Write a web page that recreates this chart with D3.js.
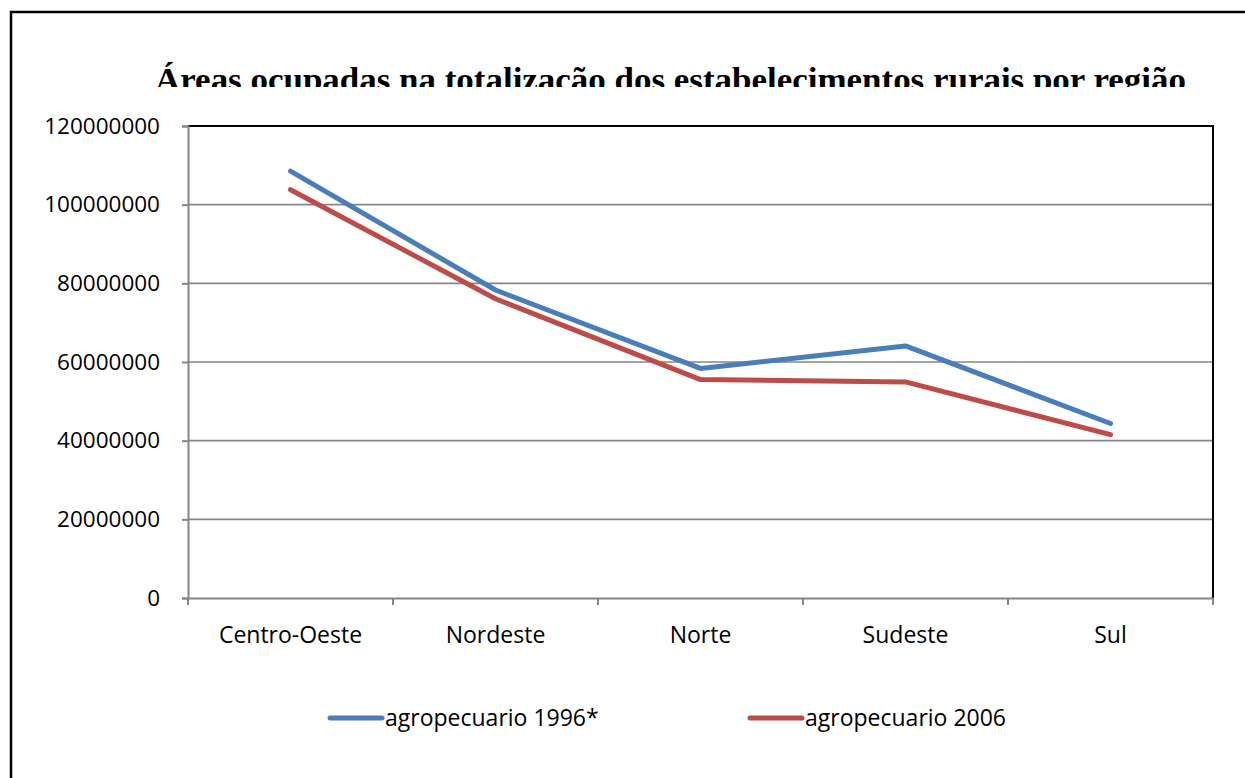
<!DOCTYPE html>
<html>
<head>
<meta charset="utf-8">
<script src="https://cdn.jsdelivr.net/npm/d3@7"></script>
<style>
  body { margin: 0; background: #fff; }
  svg { display: block; }
</style>
</head>
<body>
<svg id="chart" width="1245" height="778"></svg>
<script>
// data
var regioes = ["Centro-Oeste", "Nordeste", "Norte", "Sudeste", "Sul"];
var agro1996 = [108510038, 78296096, 58358880, 64085892, 44360364];
var agro2006 = [103797329, 76074411, 55535764, 54937773, 41526157];
var yTicks = [0, 20000000, 40000000, 60000000, 80000000, 100000000, 120000000];
var seriesNames = ["agropecuario 1996*", "agropecuario 2006"];
var seriesColors = ["#4a7ebb", "#be4b48"];

var svg = d3.select("#chart"),
    margin = {top: 126, right: 32, bottom: 180, left: 188},
    width = +svg.attr("width") - margin.left - margin.right,
    height = +svg.attr("height") - margin.top - margin.bottom;

var labelFont = "'Open Sans', 'Noto Sans', sans-serif";

// outer frame (top and left edges visible)
svg.append("path")
    .attr("d", "M11,778 V12 H1245")
    .attr("fill", "none")
    .attr("stroke", "#000")
    .attr("stroke-width", 2.5);

// title, clipped at the bottom like the original
svg.append("clipPath").attr("id", "titleClip")
  .append("rect").attr("x", 0).attr("y", 30).attr("width", 1245).attr("height", 57);

svg.append("text")
    .attr("clip-path", "url(#titleClip)")
    .attr("x", 155)
    .attr("y", 91)
    .attr("textLength", 1031)
    .attr("lengthAdjust", "spacingAndGlyphs")
    .style("font-family", "'Liberation Serif', 'Times New Roman', serif")
    .style("font-weight", "bold")
    .style("font-size", "34px")
    .text("Áreas ocupadas na totalização dos estabelecimentos rurais por região");

var x = d3.scaleBand().domain(regioes).range([0, width]);
var y = d3.scaleLinear().domain([0, 120000000]).range([height, 0]);

var g = svg.append("g").attr("transform", "translate(" + margin.left + "," + margin.top + ")");

// gridlines
g.selectAll("line.grid")
  .data(yTicks.filter(function(d) { return d > 0 && d < 120000000; }))
  .enter().append("line")
    .attr("class", "grid")
    .attr("x1", 0).attr("x2", width)
    .attr("y1", function(d) { return y(d); })
    .attr("y2", function(d) { return y(d); })
    .attr("stroke", "#868686")
    .attr("stroke-width", 1.6);

// plot area top/right border
g.append("path")
    .attr("d", "M0," + y(120000000) + " H" + width + " V" + height)
    .attr("fill", "none")
    .attr("stroke", "#000")
    .attr("stroke-width", 2);

// y axis
var yAxis = g.append("g")
    .call(d3.axisLeft(y).tickValues(yTicks).tickFormat(d3.format("d")).tickSize(6).tickPadding(22));
yAxis.select(".domain").attr("stroke", "#868686").attr("stroke-width", 2);
yAxis.selectAll(".tick line").attr("stroke", "#868686").attr("stroke-width", 2);
yAxis.selectAll("text")
    .style("font-family", labelFont)
    .style("font-size", "22.5px")
    .attr("fill", "#000");

// x axis, ticks at category boundaries
var xAxis = g.append("g")
    .attr("transform", "translate(0," + height + ")")
    .call(d3.axisBottom(x).tickSize(0).tickPadding(29));
xAxis.select(".domain").attr("stroke", "#868686").attr("stroke-width", 2);
xAxis.selectAll("text")
    .style("font-family", labelFont)
    .style("font-size", "23px")
    .attr("fill", "#000");
xAxis.selectAll("line.bound")
  .data(d3.range(regioes.length + 1))
  .enter().append("line")
    .attr("class", "bound")
    .attr("x1", function(i) { return i * x.step(); })
    .attr("x2", function(i) { return i * x.step(); })
    .attr("y1", 0).attr("y2", 7)
    .attr("stroke", "#868686")
    .attr("stroke-width", 2);

// lines
var line = d3.line()
    .x(function(d, i) { return x(regioes[i]) + x.bandwidth() / 2; })
    .y(function(d) { return y(d); });

[agro1996, agro2006].forEach(function(s, k) {
  g.append("path")
      .datum(s)
      .attr("fill", "none")
      .attr("stroke", seriesColors[k])
      .attr("stroke-width", 5)
      .attr("stroke-linecap", "round")
      .attr("stroke-linejoin", "round")
      .attr("d", line);
});

// legend
var legendX = [330, 750];
var legend = svg.selectAll("g.legend")
  .data(seriesNames)
  .enter().append("g")
    .attr("class", "legend")
    .attr("transform", function(d, i) { return "translate(" + legendX[i] + ",718)"; });

legend.append("line")
    .attr("x1", 0).attr("x2", 52)
    .attr("y1", 0).attr("y2", 0)
    .attr("stroke", function(d, i) { return seriesColors[i]; })
    .attr("stroke-width", 5)
    .attr("stroke-linecap", "round");

legend.append("text")
    .attr("x", 55)
    .attr("dy", "0.35em")
    .style("font-family", labelFont)
    .style("font-size", "23px")
    .text(function(d) { return d; });
</script>
</body>
</html>
